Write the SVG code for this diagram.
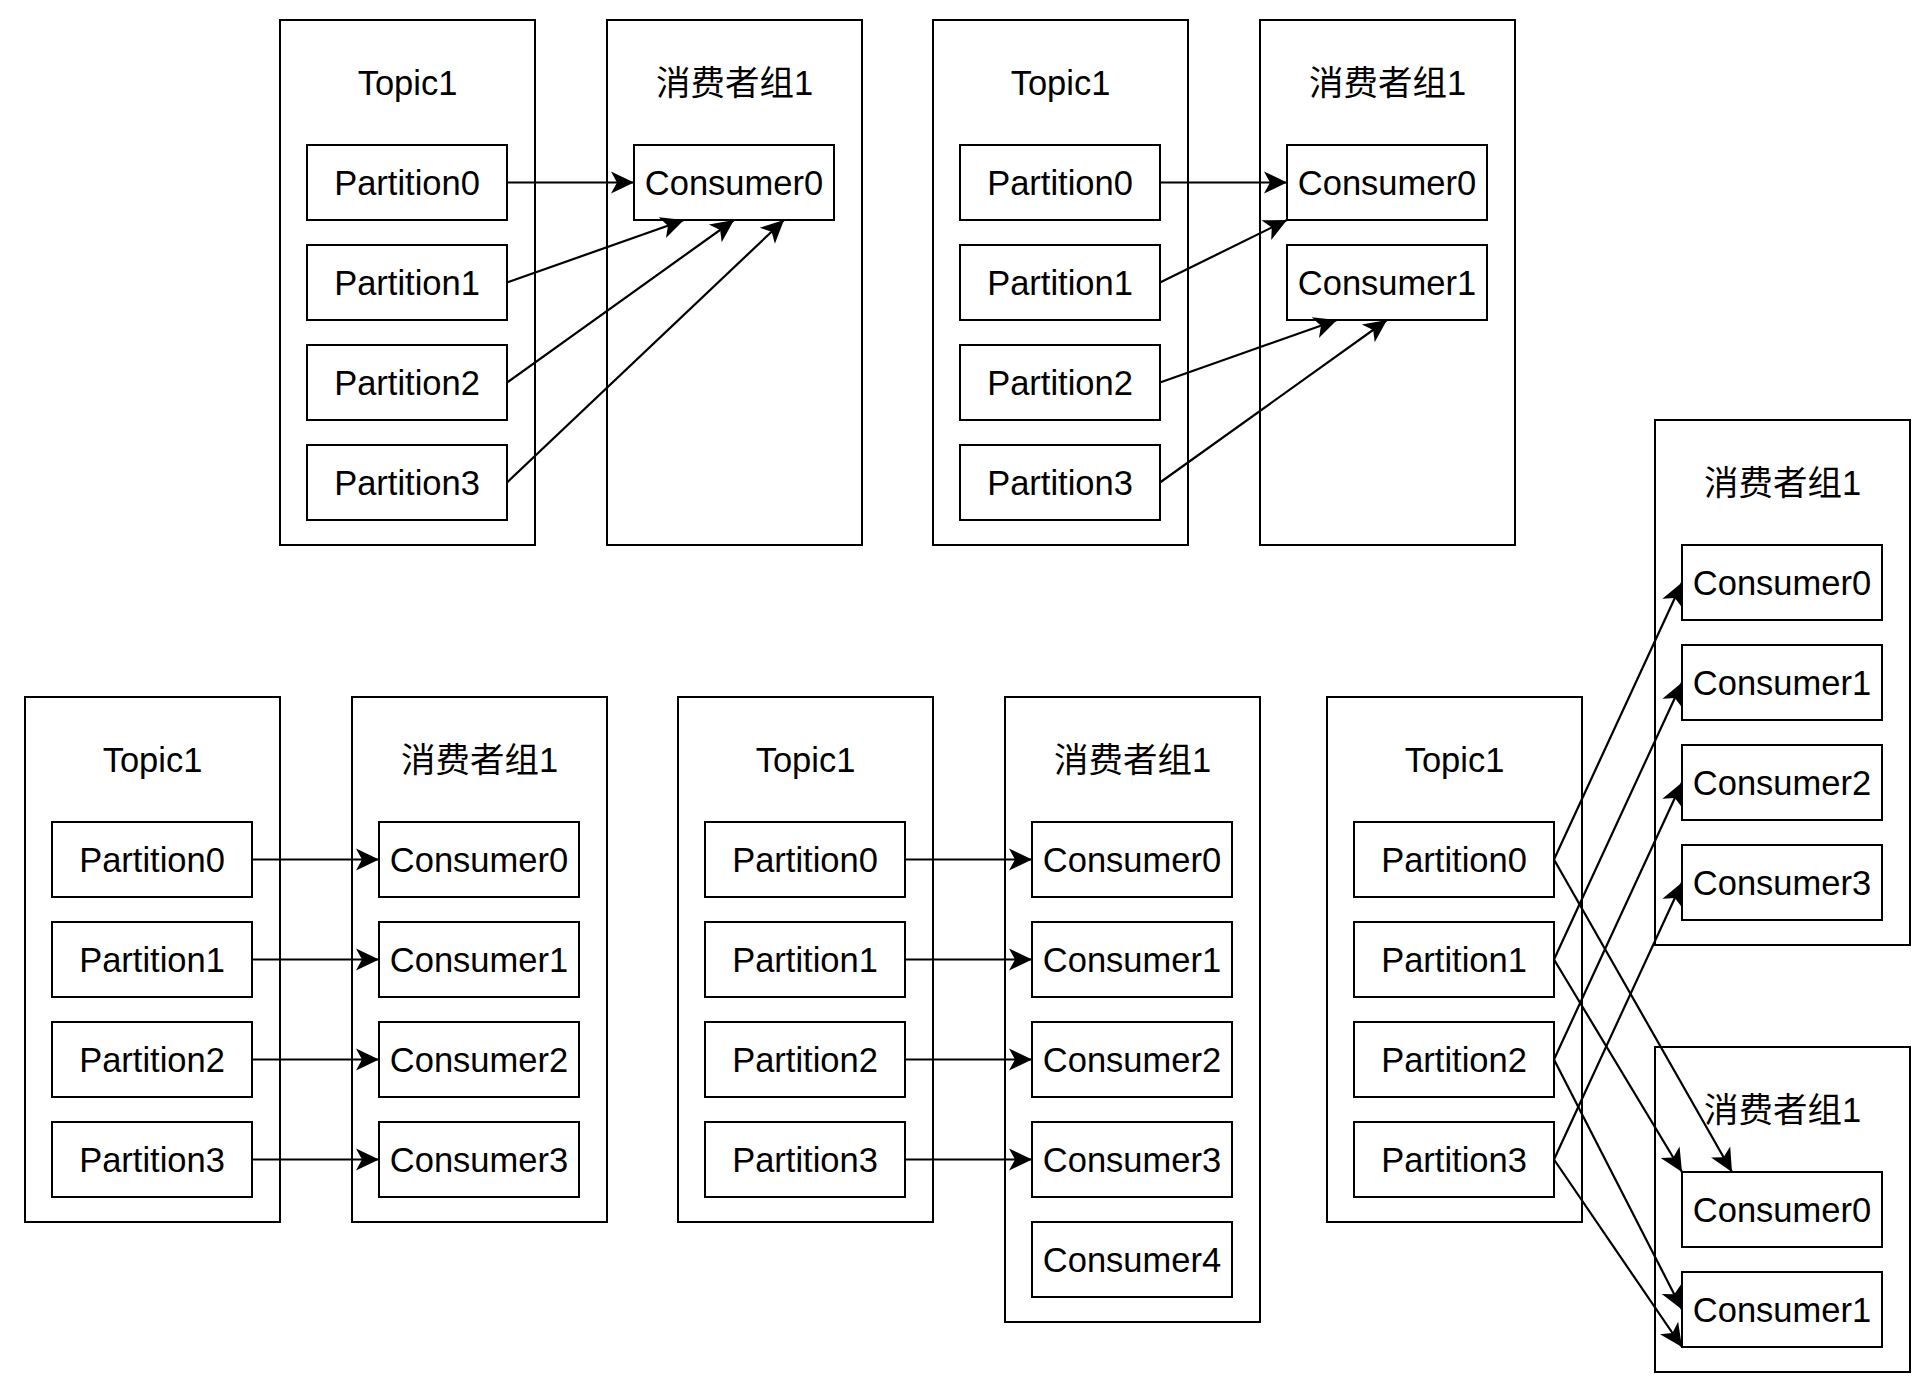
<svg xmlns="http://www.w3.org/2000/svg" width="1932" height="1394" viewBox="0 0 1932 1394">
<style>
.box{fill:#ffffff;stroke:#000000;stroke-width:2}
.t{font-family:"Liberation Sans","Noto Sans CJK SC",sans-serif;font-size:34.5px;fill:#000000;text-anchor:middle}
.e{fill:none;stroke:#000000;stroke-width:2.2;marker-end:url(#arr)}
</style>
<defs>
<marker id="arr" markerUnits="userSpaceOnUse" markerWidth="26" markerHeight="24" refX="23" refY="11" orient="auto" overflow="visible">
<path d="M0,0 L23,11 L0,22 L6,11 Z" fill="#000000"/>
</marker>
</defs>
<rect width="1932" height="1394" fill="#ffffff"/>

<!-- Diagram A (top-left) -->
<g id="a-topic"><rect class="box" x="280" y="20" width="255" height="525"/><text class="t" x="407.5" y="95">Topic1</text></g>
<g id="a-group"><rect class="box" x="607" y="20" width="255" height="525"/><text class="t" x="734.5" y="95">消费者组1</text></g>
<g id="a-p0"><rect class="box" x="307" y="145" width="200" height="75"/><text class="t" x="407" y="195">Partition0</text></g>
<g id="a-p1"><rect class="box" x="307" y="245" width="200" height="75"/><text class="t" x="407" y="295">Partition1</text></g>
<g id="a-p2"><rect class="box" x="307" y="345" width="200" height="75"/><text class="t" x="407" y="395">Partition2</text></g>
<g id="a-p3"><rect class="box" x="307" y="445" width="200" height="75"/><text class="t" x="407" y="495">Partition3</text></g>
<g id="a-c0"><rect class="box" x="634" y="145" width="200" height="75"/><text class="t" x="734" y="195">Consumer0</text></g>

<!-- Diagram B (top-right) -->
<g id="b-topic"><rect class="box" x="933" y="20" width="255" height="525"/><text class="t" x="1060.5" y="95">Topic1</text></g>
<g id="b-group"><rect class="box" x="1260" y="20" width="255" height="525"/><text class="t" x="1387.5" y="95">消费者组1</text></g>
<g id="b-p0"><rect class="box" x="960" y="145" width="200" height="75"/><text class="t" x="1060" y="195">Partition0</text></g>
<g id="b-p1"><rect class="box" x="960" y="245" width="200" height="75"/><text class="t" x="1060" y="295">Partition1</text></g>
<g id="b-p2"><rect class="box" x="960" y="345" width="200" height="75"/><text class="t" x="1060" y="395">Partition2</text></g>
<g id="b-p3"><rect class="box" x="960" y="445" width="200" height="75"/><text class="t" x="1060" y="495">Partition3</text></g>
<g id="b-c0"><rect class="box" x="1287" y="145" width="200" height="75"/><text class="t" x="1387" y="195">Consumer0</text></g>
<g id="b-c1"><rect class="box" x="1287" y="245" width="200" height="75"/><text class="t" x="1387" y="295">Consumer1</text></g>

<!-- Diagram C (bottom-left) -->
<g id="c-topic"><rect class="box" x="25" y="697" width="255" height="525"/><text class="t" x="152.5" y="772">Topic1</text></g>
<g id="c-group"><rect class="box" x="352" y="697" width="255" height="525"/><text class="t" x="479.5" y="772">消费者组1</text></g>
<g id="c-p0"><rect class="box" x="52" y="822" width="200" height="75"/><text class="t" x="152" y="872">Partition0</text></g>
<g id="c-p1"><rect class="box" x="52" y="922" width="200" height="75"/><text class="t" x="152" y="972">Partition1</text></g>
<g id="c-p2"><rect class="box" x="52" y="1022" width="200" height="75"/><text class="t" x="152" y="1072">Partition2</text></g>
<g id="c-p3"><rect class="box" x="52" y="1122" width="200" height="75"/><text class="t" x="152" y="1172">Partition3</text></g>
<g id="c-c0"><rect class="box" x="379" y="822" width="200" height="75"/><text class="t" x="479" y="872">Consumer0</text></g>
<g id="c-c1"><rect class="box" x="379" y="922" width="200" height="75"/><text class="t" x="479" y="972">Consumer1</text></g>
<g id="c-c2"><rect class="box" x="379" y="1022" width="200" height="75"/><text class="t" x="479" y="1072">Consumer2</text></g>
<g id="c-c3"><rect class="box" x="379" y="1122" width="200" height="75"/><text class="t" x="479" y="1172">Consumer3</text></g>

<!-- Diagram D (bottom-middle) -->
<g id="d-topic"><rect class="box" x="678" y="697" width="255" height="525"/><text class="t" x="805.5" y="772">Topic1</text></g>
<g id="d-group"><rect class="box" x="1005" y="697" width="255" height="625"/><text class="t" x="1132.5" y="772">消费者组1</text></g>
<g id="d-p0"><rect class="box" x="705" y="822" width="200" height="75"/><text class="t" x="805" y="872">Partition0</text></g>
<g id="d-p1"><rect class="box" x="705" y="922" width="200" height="75"/><text class="t" x="805" y="972">Partition1</text></g>
<g id="d-p2"><rect class="box" x="705" y="1022" width="200" height="75"/><text class="t" x="805" y="1072">Partition2</text></g>
<g id="d-p3"><rect class="box" x="705" y="1122" width="200" height="75"/><text class="t" x="805" y="1172">Partition3</text></g>
<g id="d-c0"><rect class="box" x="1032" y="822" width="200" height="75"/><text class="t" x="1132" y="872">Consumer0</text></g>
<g id="d-c1"><rect class="box" x="1032" y="922" width="200" height="75"/><text class="t" x="1132" y="972">Consumer1</text></g>
<g id="d-c2"><rect class="box" x="1032" y="1022" width="200" height="75"/><text class="t" x="1132" y="1072">Consumer2</text></g>
<g id="d-c3"><rect class="box" x="1032" y="1122" width="200" height="75"/><text class="t" x="1132" y="1172">Consumer3</text></g>
<g id="d-c4"><rect class="box" x="1032" y="1222" width="200" height="75"/><text class="t" x="1132" y="1272">Consumer4</text></g>

<!-- Diagram E (bottom-right) -->
<g id="e-topic"><rect class="box" x="1327" y="697" width="255" height="525"/><text class="t" x="1454.5" y="772">Topic1</text></g>
<g id="e-groupA"><rect class="box" x="1655" y="420" width="255" height="525"/><text class="t" x="1782.5" y="495">消费者组1</text></g>
<g id="e-groupB"><rect class="box" x="1655" y="1047" width="255" height="325"/><text class="t" x="1782.5" y="1122">消费者组1</text></g>
<g id="e-p0"><rect class="box" x="1354" y="822" width="200" height="75"/><text class="t" x="1454" y="872">Partition0</text></g>
<g id="e-p1"><rect class="box" x="1354" y="922" width="200" height="75"/><text class="t" x="1454" y="972">Partition1</text></g>
<g id="e-p2"><rect class="box" x="1354" y="1022" width="200" height="75"/><text class="t" x="1454" y="1072">Partition2</text></g>
<g id="e-p3"><rect class="box" x="1354" y="1122" width="200" height="75"/><text class="t" x="1454" y="1172">Partition3</text></g>
<g id="e-a-c0"><rect class="box" x="1682" y="545" width="200" height="75"/><text class="t" x="1782" y="595">Consumer0</text></g>
<g id="e-a-c1"><rect class="box" x="1682" y="645" width="200" height="75"/><text class="t" x="1782" y="695">Consumer1</text></g>
<g id="e-a-c2"><rect class="box" x="1682" y="745" width="200" height="75"/><text class="t" x="1782" y="795">Consumer2</text></g>
<g id="e-a-c3"><rect class="box" x="1682" y="845" width="200" height="75"/><text class="t" x="1782" y="895">Consumer3</text></g>
<g id="e-b-c0"><rect class="box" x="1682" y="1172" width="200" height="75"/><text class="t" x="1782" y="1222">Consumer0</text></g>
<g id="e-b-c1"><rect class="box" x="1682" y="1272" width="200" height="75"/><text class="t" x="1782" y="1322">Consumer1</text></g>

<g id="connectors">
<path class="e" d="M507,182.5 L634,182.5"/>
<path class="e" d="M507,282.5 L684,220"/>
<path class="e" d="M507,382.5 L734,220"/>
<path class="e" d="M507,482.5 L784,220"/>

<path class="e" d="M1160,182.5 L1287,182.5"/>
<path class="e" d="M1160,282.5 L1287,220"/>
<path class="e" d="M1160,382.5 L1337,320"/>
<path class="e" d="M1160,482.5 L1387,320"/>

<path class="e" d="M252,859.5 L379,859.5"/>
<path class="e" d="M252,959.5 L379,959.5"/>
<path class="e" d="M252,1059.5 L379,1059.5"/>
<path class="e" d="M252,1159.5 L379,1159.5"/>

<path class="e" d="M905,859.5 L1032,859.5"/>
<path class="e" d="M905,959.5 L1032,959.5"/>
<path class="e" d="M905,1059.5 L1032,1059.5"/>
<path class="e" d="M905,1159.5 L1032,1159.5"/>

<path class="e" d="M1554,859.5 L1682,582.5"/>
<path class="e" d="M1554,959.5 L1682,682.5"/>
<path class="e" d="M1554,1059.5 L1682,782.5"/>
<path class="e" d="M1554,1159.5 L1682,882.5"/>
<path class="e" d="M1554,859.5 L1732,1172"/>
<path class="e" d="M1554,959.5 L1682,1172"/>
<path class="e" d="M1554,1059.5 L1682,1309.5"/>
<path class="e" d="M1554,1159.5 L1682,1347"/>
</g>
</svg>
